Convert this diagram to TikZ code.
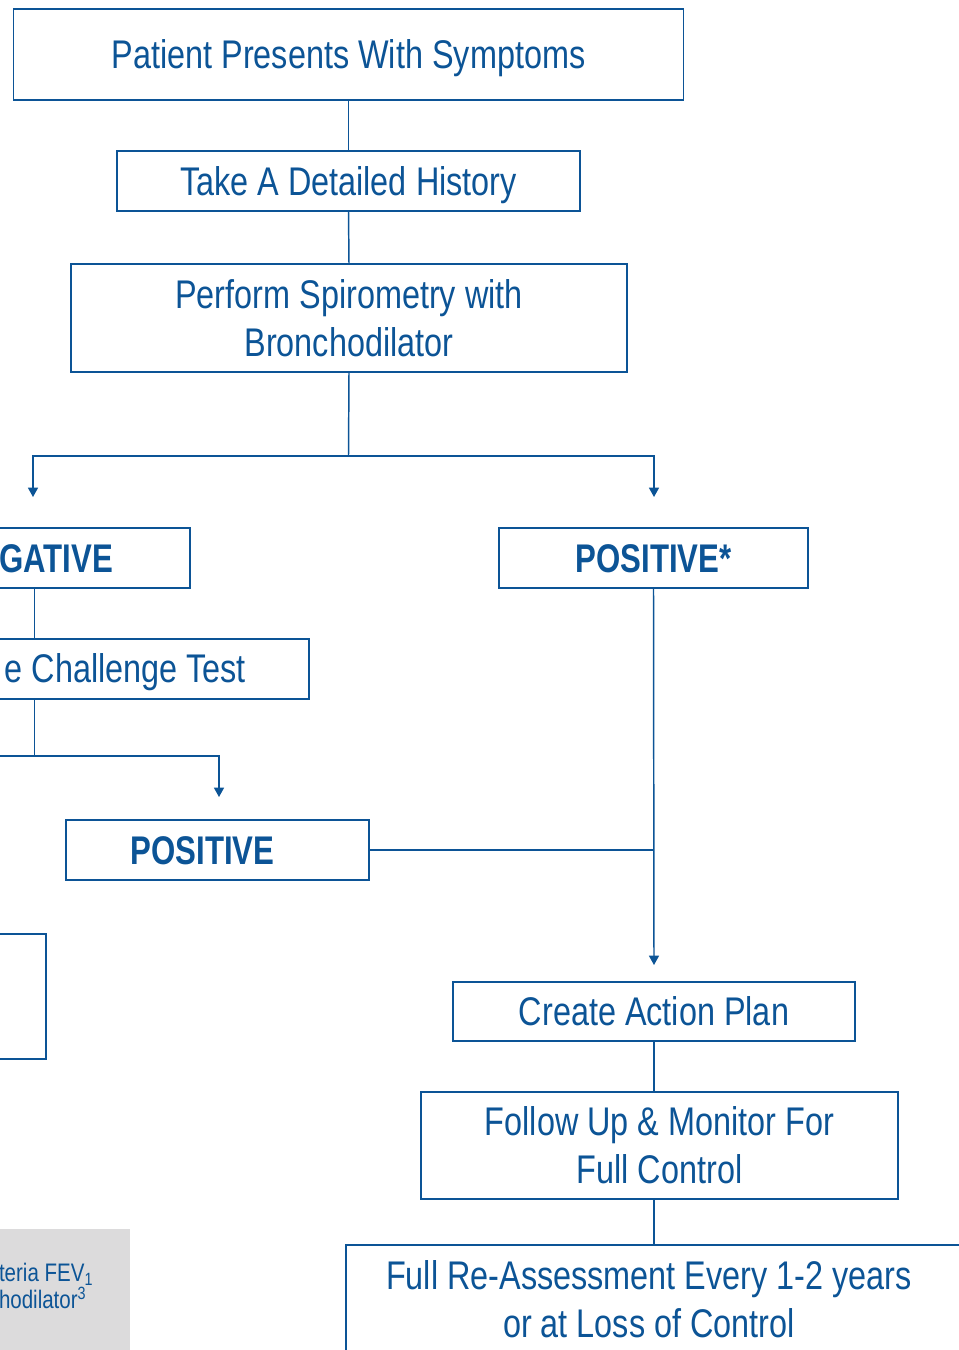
\documentclass[tikz,border=0pt]{standalone}
\usepackage{fontspec}
\setmainfont[FakeStretch=0.81,BoldFeatures={FakeStretch=0.78}]{Liberation Sans}
\usetikzlibrary{arrows.meta}
\definecolor{navy}{RGB}{12,84,150}
\definecolor{panel}{RGB}{220,219,220}
\begin{document}
\begin{tikzpicture}[x=0.75pt,y=-0.75pt,
  box/.style={draw=navy, line width=1.1pt, inner sep=0pt, outer sep=0pt, text=navy,
    font=\fontsize{30}{36}\selectfont, align=center},
  one/.style={text height=21.5pt, text depth=0pt},
  hbox/.style={box, font=\fontsize{30}{36}\selectfont\bfseries},
  conn/.style={draw=navy, line width=1.1pt},
  arr/.style={conn, -{Triangle[width=7.5pt,length=7pt]}},
  lbl/.style={text=navy, inner sep=0pt, outer sep=0pt, font=\fontsize{30}{36}\selectfont},
  small/.style={text=navy, inner sep=0pt, outer sep=0pt, align=left, font=\fontsize{19}{18}\selectfont}
]
\useasboundingbox (0,0) rectangle (959,1350);
\clip (0,0) rectangle (959,1350);

% gray panel
\fill[panel] (0,1229) rectangle (130,1350);
\node[small, anchor=base west] (note) at (-1,1308) {teria FEV\textsubscript{1}\\hodilator\textsuperscript{3}};

% boxes
\node[box, one, minimum width=502.5pt, minimum height=68.25pt] (b1) at (348.5,54.5) {Patient Presents With Symptoms};
\node[box, one, minimum width=347.25pt, minimum height=45pt] (b2) at (348.5,181) {Take A Detailed History};
\node[box, minimum width=417pt, minimum height=81pt] (b3) at (349,318) {Perform Spirometry with\\Bronchodilator};
\node[box, minimum width=322.5pt, minimum height=45pt] (neg) at (-25,558) {};
\node[lbl, font=\fontsize{30}{36}\selectfont\bfseries, anchor=base east] (negtxt) at (113,572) {GATIVE};
\node[hbox, one, minimum width=231.75pt, minimum height=45pt] (posstar) at (653.5,558) {POSITIVE*};
\node[box, minimum width=411.75pt, minimum height=45pt] (chal) at (34.5,669) {};
\node[lbl, anchor=base east] (chaltxt) at (246,682) {e Challenge Test};
\node[box, minimum width=227.25pt, minimum height=45pt] (pos) at (217.5,850) {};
\node[lbl, font=\fontsize{30}{36}\selectfont\bfseries, anchor=base] (postxt) at (202.5,864) {POSITIVE};
\node[box, minimum width=184.5pt, minimum height=93.75pt] (left) at (-77,996.5) {};
\node[box, one, minimum width=301.5pt, minimum height=44.25pt] (action) at (654,1011.5) {Create Action Plan};
\node[box, minimum width=357.75pt, minimum height=80.25pt] (follow) at (659.5,1145.5) {Follow Up \& Monitor For\\Full Control};
\node[box, minimum width=462pt, minimum height=81pt] (reass) at (654,1299) {};
\node[lbl, align=center] (reasstxt) at (649,1299) {Full Re-Assessment Every 1-2 years\\or at Loss of Control};

% connector coordinates
\coordinate (split) at (348.5,456);
\coordinate (sL) at (33,456);
\coordinate (sR) at (654,456);
\coordinate (aL) at (33,497);
\coordinate (aR) at (654,497);
\coordinate (j2) at (34.5,756);
\coordinate (j2L) at (-20,756);
\coordinate (j2R) at (219,756);
\coordinate (a2) at (219,797);
\coordinate (aP) at (654,965);

% connectors
\draw[conn] (b1.south) -- (b2.north);
\draw[conn] (b2.south) -- (b3.north);
\draw[conn] (b3.south) -- (split);
\draw[arr] (split) -- (sL) -- (aL);
\draw[arr] (split) -- (sR) -- (aR);
\draw[conn] (chal.north) -- (chal.north |- neg.south);
\draw[conn] (chal.south) -- (j2);
\draw[conn] (j2) -- (j2L);
\draw[arr] (j2) -- (j2R) -- (a2);
\draw[arr] (posstar.south) -- (aP);
\draw[conn] (pos.east) -- (pos.east -| posstar.south);
\draw[conn] (action.south) -- (action.south |- follow.north);
\draw[conn] (follow.south -| action.south) -- (reass.north);
\end{tikzpicture}
\end{document}
